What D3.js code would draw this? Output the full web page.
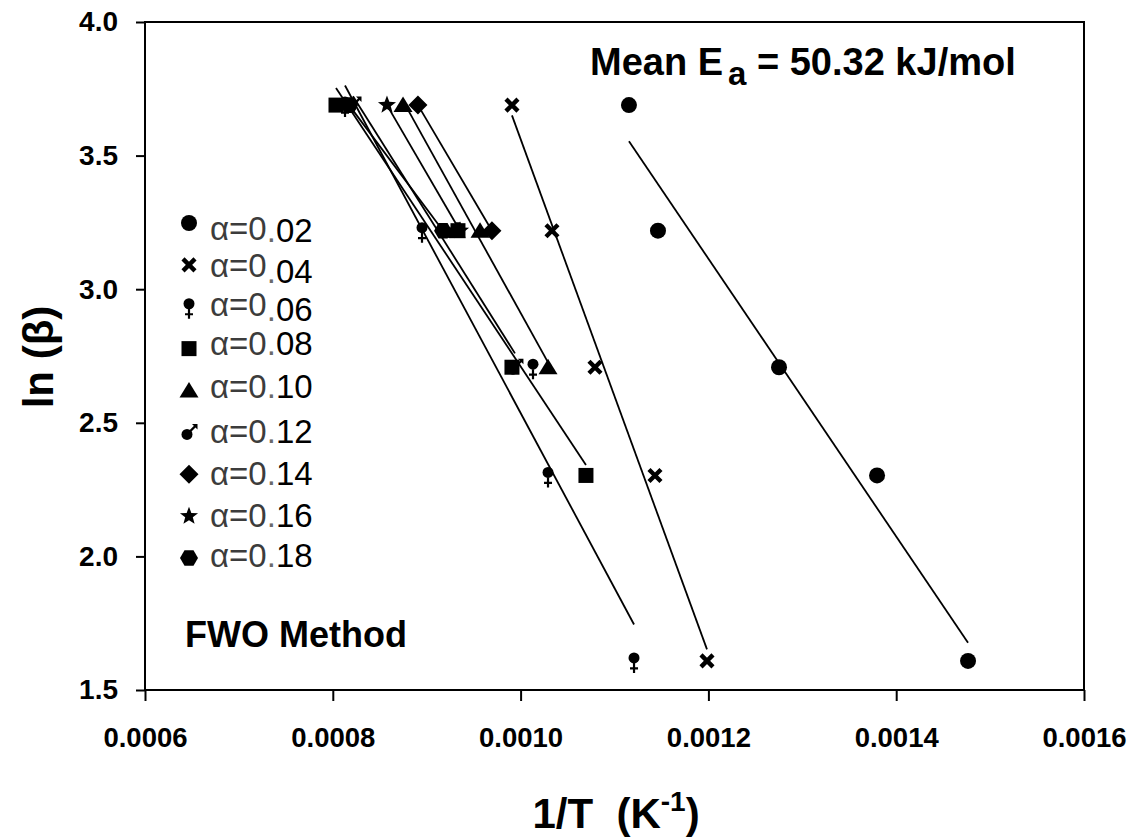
<!DOCTYPE html>
<html>
<head>
<meta charset="utf-8">
<script src="https://cdn.jsdelivr.net/npm/d3@7"></script>
<style>
  html, body { margin: 0; padding: 0; background: #fff; }
  svg { display: block; font-family: "Liberation Sans", Arial, sans-serif; }
</style>
</head>
<body>
<svg id="chart" width="1135" height="839"></svg>
<script>
// ln(beta) for heating rates of 40, 25, 15, 10 and 5 K/min
const lnBeta = [3.689, 3.219, 2.708, 2.303, 1.609];

// conversion levels shown in the legend
const alphas = ["0.02", "0.04", "0.06", "0.08", "0.10", "0.12", "0.14", "0.16", "0.18"];

// 1/T (K^-1) reached at each conversion, one entry per heating rate (null = not recorded)
const invT_002 = [0.0011154, 0.0011463, 0.0012752, 0.0013796, 0.0014765];
const invT_004 = [0.0009908, 0.0010334, 0.0010792, 0.0011431, 0.0011985];
const invT_006 = [0.0008130, 0.0008950, 0.0010132, 0.0010292, 0.0011208];
const invT_008 = [0.0008034, 0.0009333, 0.0009908, 0.0010696, null];
const invT_010 = [0.0008748, 0.0009568, 0.0010292, null, null];
const invT_012 = [0.0008215, 0.0009269, 0.0009940, null, null];
const invT_014 = [0.0008907, 0.0009695, null, null, null];
const invT_016 = [0.0008577, 0.0009355, null, null, null];
const invT_018 = [0.0008173, 0.0009174, null, null, null];

const symbolTypes = ["circle", "cross", "female", "square", "triangle", "male", "diamond", "star", "hexagon"];

const xTicks = [0.0006, 0.0008, 0.0010, 0.0012, 0.0014, 0.0016];
const yTicks = [1.5, 2.0, 2.5, 3.0, 3.5, 4.0];

const meanEa = "50.32";

// ---- layout ----
const W = 1135, H = 839;
const margin = { left: 145, top: 22, right: 51, bottom: 149 };
const plotW = W - margin.left - margin.right;
const plotH = H - margin.top - margin.bottom;

const svg = d3.select("#chart");
const x = d3.scaleLinear().domain([0.0006, 0.0016]).range([margin.left, margin.left + plotW]);
const y = d3.scaleLinear().domain([1.5, 4.0]).range([margin.top + plotH, margin.top]);

const invTSeries = [invT_002, invT_004, invT_006, invT_008, invT_010, invT_012, invT_014, invT_016, invT_018];
const series = alphas.map((a, i) => ({
  alpha: a,
  symbol: symbolTypes[i],
  points: invTSeries[i].map((v, j) => v == null ? null : { x: v, y: lnBeta[j] }).filter(p => p)
}));

// ---- marker drawing ----
function starPath(R, r) {
  const pts = [];
  for (let k = 0; k < 10; k++) {
    const rad = k % 2 === 0 ? R : r;
    const ang = -Math.PI / 2 + k * Math.PI / 5;
    pts.push([rad * Math.cos(ang), rad * Math.sin(ang)]);
  }
  return "M" + pts.map(p => p[0].toFixed(2) + "," + p[1].toFixed(2)).join("L") + "Z";
}
function hexPath(R) {
  const pts = [];
  for (let k = 0; k < 6; k++) {
    const ang = k * Math.PI / 3;
    pts.push([R * Math.cos(ang), R * Math.sin(ang)]);
  }
  return "M" + pts.map(p => p[0].toFixed(2) + "," + p[1].toFixed(2)).join("L") + "Z";
}

function drawMarker(g, type) {
  switch (type) {
    case "circle":
      g.append("circle").attr("r", 8).attr("fill", "#000");
      break;
    case "cross":
      g.append("path").attr("d", "M-6,-6L6,6M6,-6L-6,6")
        .attr("stroke", "#000").attr("stroke-width", 4.4).attr("fill", "none");
      break;
    case "female":
      g.append("circle").attr("cx", 0).attr("cy", -3).attr("r", 5.5).attr("fill", "#000");
      g.append("path").attr("d", "M0,2V12M-4,7.5H4")
        .attr("stroke", "#000").attr("stroke-width", 2.2).attr("fill", "none");
      break;
    case "square":
      g.append("rect").attr("x", -7.5).attr("y", -7.5).attr("width", 15).attr("height", 15).attr("fill", "#000");
      break;
    case "triangle":
      g.append("path").attr("d", "M0,-8.5L9.5,7L-9.5,7Z").attr("fill", "#000");
      break;
    case "male":
      g.append("circle").attr("cx", -2).attr("cy", 2).attr("r", 5.5).attr("fill", "#000");
      g.append("path").attr("d", "M1,-1L6.5,-6.5")
        .attr("stroke", "#000").attr("stroke-width", 2.2).attr("fill", "none");
      g.append("path").attr("d", "M8.5,-8.5L3,-8.5L8.5,-3Z").attr("fill", "#000");
      break;
    case "diamond":
      g.append("path").attr("d", "M0,-9.5L9.5,0L0,9.5L-9.5,0Z").attr("fill", "#000");
      break;
    case "star":
      g.append("path").attr("d", starPath(9.5, 4)).attr("fill", "#000");
      break;
    case "hexagon":
      g.append("path").attr("d", hexPath(9)).attr("fill", "#000");
      break;
  }
}

// ---- regression lines (least squares of ln(beta) on 1/T, over each series' 1/T range) ----
const lineLayer = svg.append("g").attr("class", "fits");
series.forEach(s => {
  const n = s.points.length;
  if (n < 2) return;
  const mx = d3.mean(s.points, p => p.x), my = d3.mean(s.points, p => p.y);
  const sxy = d3.sum(s.points, p => (p.x - mx) * (p.y - my));
  const sxx = d3.sum(s.points, p => (p.x - mx) * (p.x - mx));
  const b = sxy / sxx, a0 = my - b * mx;
  const [x0, x1] = d3.extent(s.points, p => p.x);
  lineLayer.append("line")
    .attr("x1", x(x0)).attr("y1", y(a0 + b * x0))
    .attr("x2", x(x1)).attr("y2", y(a0 + b * x1))
    .attr("stroke", "#000").attr("stroke-width", 1.8);
});

// ---- data markers (later conversions first so low conversions sit on top) ----
const markerLayer = svg.append("g").attr("class", "markers");
series.slice().reverse().forEach(s => {
  s.points.forEach(p => {
    const g = markerLayer.append("g").attr("transform", `translate(${x(p.x)},${y(p.y)})`);
    drawMarker(g, s.symbol);
  });
});

// ---- axes ----
const xAxis = svg.append("g").attr("transform", `translate(0,${margin.top + plotH})`)
  .call(d3.axisBottom(x).tickValues(xTicks).tickSize(11).tickPadding(26).tickFormat(d => d.toFixed(4)));
xAxis.select(".domain").remove();
xAxis.selectAll(".tick line").attr("stroke", "#000").attr("stroke-width", 2);
xAxis.selectAll(".tick text").attr("fill", "#000").attr("font-size", 27.5).attr("font-weight", "bold")
  .attr("font-family", "'Liberation Sans', Arial, sans-serif");

const yAxis = svg.append("g").attr("transform", `translate(${margin.left},0)`)
  .call(d3.axisLeft(y).tickValues(yTicks).tickSize(9).tickPadding(18).tickFormat(d => d.toFixed(1)));
yAxis.select(".domain").remove();
yAxis.selectAll(".tick line").attr("stroke", "#000").attr("stroke-width", 2);
yAxis.selectAll(".tick text").attr("fill", "#000").attr("font-size", 28).attr("font-weight", "bold")
  .attr("font-family", "'Liberation Sans', Arial, sans-serif");

// plot frame
svg.append("rect")
  .attr("x", margin.left).attr("y", margin.top).attr("width", plotW).attr("height", plotH)
  .attr("fill", "none").attr("stroke", "#000").attr("stroke-width", 2);

// axis titles
const xt = svg.append("text").attr("x", 616).attr("y", 828).attr("text-anchor", "middle")
  .attr("font-size", 42).attr("font-weight", "bold").attr("xml:space", "preserve");
xt.append("tspan").text("1/T  (K");
xt.append("tspan").attr("font-size", 28).attr("dy", -17).text("-1");
xt.append("tspan").attr("dy", 17).text(")");

svg.append("text").attr("transform", "translate(53,357) rotate(-90)").attr("text-anchor", "middle")
  .attr("font-size", 42).attr("font-weight", "bold").attr("xml:space", "preserve").text("ln (β)");

// annotations
const ea = svg.append("text").attr("x", 590).attr("y", 75).attr("font-size", 38).attr("font-weight", "bold");
ea.append("tspan").text("Mean E");
ea.append("tspan").attr("font-size", 33).attr("dx", 5).attr("dy", 10).text("a");
ea.append("tspan").attr("dy", -10).text(" = " + meanEa + " kJ/mol");

svg.append("text").attr("x", 185).attr("y", 647).attr("font-size", 36).attr("font-weight", "bold").text("FWO Method");

// ---- legend ----
const legendSymbolY = d3.scaleLinear().domain([0, 8]).range([223, 558]);
const legendTextY = [240, 277, 316, 355, 398, 443, 485, 527, 567];
const legendDigitShift = [2, 6, 5, 0, 0, 0, 0, 0, 0];
const legend = svg.append("g").attr("class", "legend");
series.forEach((s, i) => {
  const g = legend.append("g").attr("transform", `translate(189,${legendSymbolY(i)})`);
  drawMarker(g, s.symbol);
  const t = legend.append("text").attr("x", 210).attr("y", legendTextY[i]).attr("font-size", 33);
  const [whole, frac] = s.alpha.split(".");
  t.append("tspan").attr("fill", "#3c3c3c").text("α=" + whole);
  t.append("tspan").attr("fill", "#6a6a6a").attr("dy", legendDigitShift[i]).text(".");
  t.append("tspan").attr("fill", "#000").text(frac);
});
</script>
</body>
</html>
